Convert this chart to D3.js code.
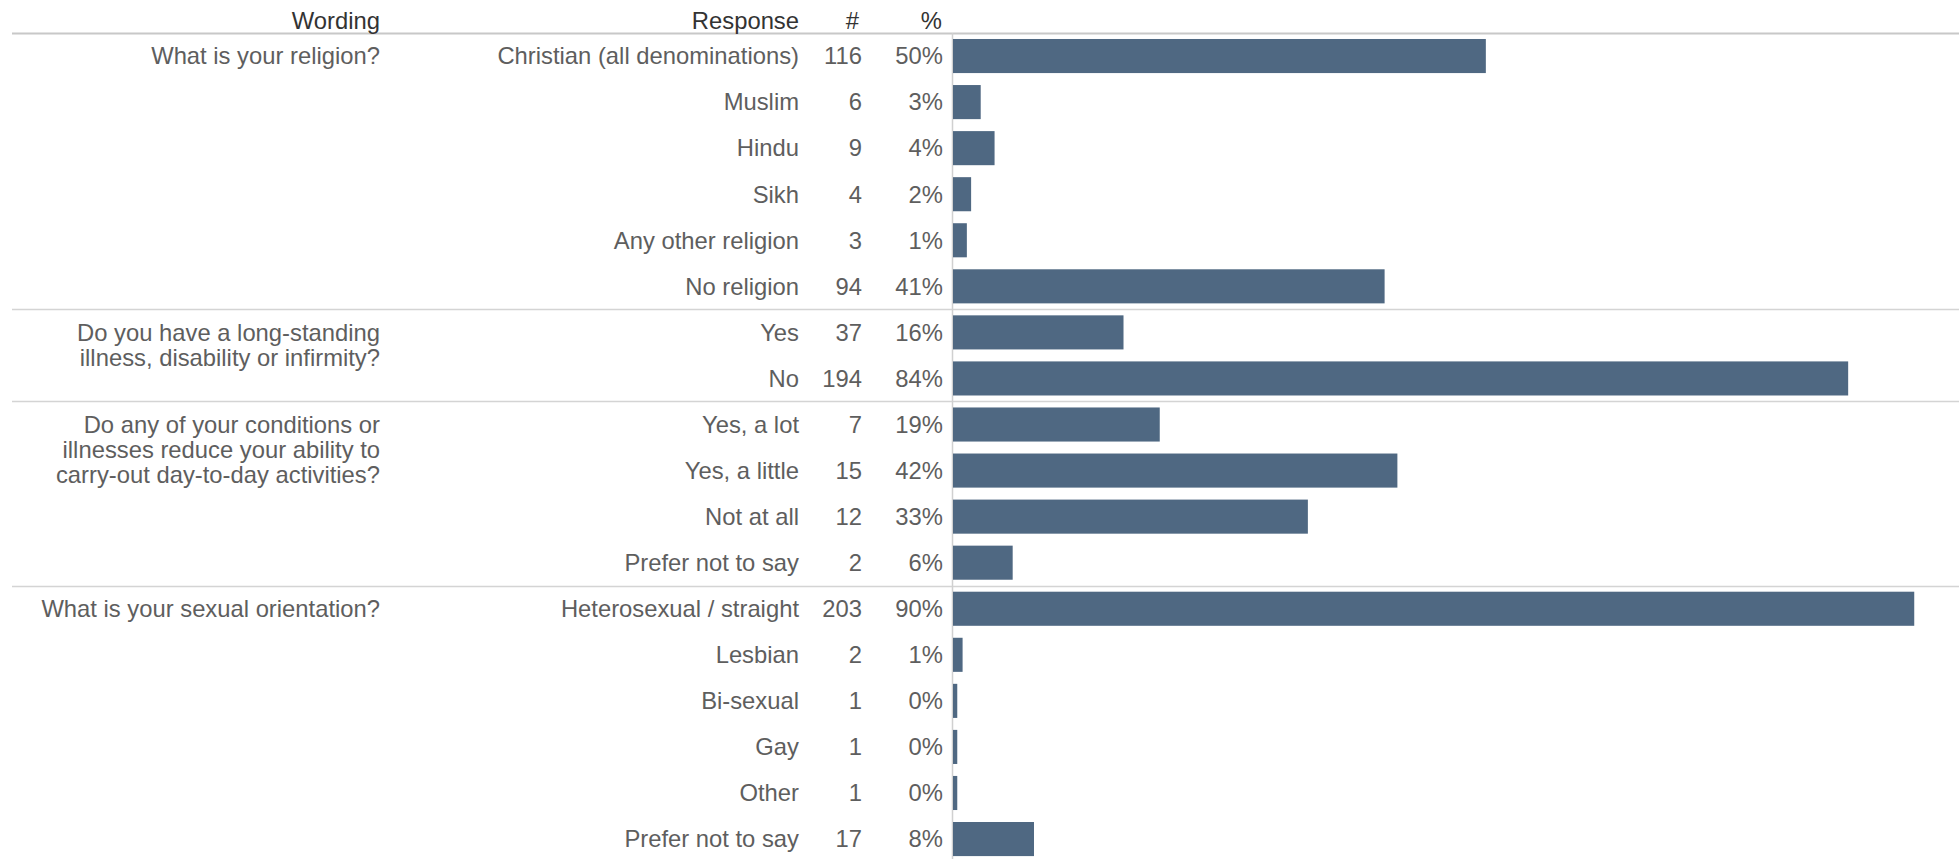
<!DOCTYPE html>
<html>
<head>
<meta charset="utf-8">
<script src="https://cdn.jsdelivr.net/npm/d3@7"></script>
<style>
  body { margin: 0; background: #fff; }
  svg { display: block; font-family: "Liberation Sans", Arial, sans-serif; }
</style>
</head>
<body>
<div id="chart"></div>
<script>
// Question wording, one entry per group (lines as drawn)
const wording = [
    ["What is your religion?"],
    ["Do you have a long-standing", "illness, disability or infirmity?"],
    ["Do any of your conditions or", "illnesses reduce your ability to", "carry-out day-to-day activities?"],
    ["What is your sexual orientation?"]
];
// number of response rows in each group
const groupSizes = [6, 2, 4, 6];

const responses = [
    "Christian (all denominations)", "Muslim", "Hindu", "Sikh", "Any other religion", "No religion",
    "Yes", "No",
    "Yes, a lot", "Yes, a little", "Not at all", "Prefer not to say",
    "Heterosexual / straight", "Lesbian", "Bi-sexual", "Gay", "Other", "Prefer not to say"
];
const counts = [116, 6, 9, 4, 3, 94, 37, 194, 7, 15, 12, 2, 203, 2, 1, 1, 1, 17];
const percents = [50.0, 2.6, 3.9, 1.7, 1.3, 40.5, 16.0, 84.0, 19.4, 41.7, 33.3, 5.6, 90.2, 0.9, 0.4, 0.4, 0.4, 7.6];

const headers = ["Wording", "Response", "#", "%"];

const width = 1959, height = 859;
const chartTop = 33;
const fontSize = 23.8;

const svg = d3.select("#chart").append("svg")
    .attr("width", width)
    .attr("height", height);

// scales
const y = d3.scaleBand()
    .domain(d3.range(responses.length))
    .range([chartTop, chartTop + responses.length * 46.06])
    .paddingInner(0.26)
    .paddingOuter(0.13);

const x = d3.scaleLinear()
    .domain([0, 94.4])
    .range([953, width]);

const step = y.step();
const rowTop = i => y(i) - step * y.paddingInner() / 2;
const rowMid = i => y(i) + y.bandwidth() / 2;

// column anchors (right-aligned text)
const colWording = 380, colResponse = 799, colCount = 862, colPct = 943;

// group starts
const groupStart = [];
let acc = 0;
groupSizes.forEach(n => { groupStart.push(acc); acc += n; });

// separators
svg.append("g")
    .selectAll("line")
    .data(groupStart)
    .join("line")
    .attr("x1", 12)
    .attr("x2", width)
    .attr("y1", d => Math.round(rowTop(d)) + 0.5)
    .attr("y2", d => Math.round(rowTop(d)) + 0.5)
    .attr("stroke", d => d === 0 ? "#c8c8c8" : "#d4d4d4")
    .attr("stroke-width", d => d === 0 ? 2 : 1.5);

// zero axis line
svg.append("line")
    .attr("x1", x(0) - 0.5)
    .attr("x2", x(0) - 0.5)
    .attr("y1", chartTop)
    .attr("y2", height)
    .attr("stroke", "#d0d0d0")
    .attr("stroke-width", 1.5);

// bars
svg.append("g")
    .selectAll("rect")
    .data(percents)
    .join("rect")
    .attr("x", x(0))
    .attr("y", (d, i) => y(i))
    .attr("width", d => x(d) - x(0))
    .attr("height", y.bandwidth())
    .attr("fill", "#4f6882");

// headers
svg.append("g")
    .selectAll("text")
    .data(headers)
    .join("text")
    .attr("x", (d, i) => [colWording, colResponse, colCount - 3, colPct - 1][i])
    .attr("y", 21)
    .attr("dy", "0.35em")
    .attr("text-anchor", "end")
    .attr("font-size", fontSize)
    .attr("fill", "#333")
    .text(d => d);

// wording
const wordG = svg.append("g")
    .selectAll("text")
    .data(wording)
    .join("text")
    .attr("text-anchor", "end")
    .attr("font-size", fontSize)
    .attr("fill", "#5e5e5e");
wordG.each(function(lines, gi) {
    const start = groupStart[gi];
    d3.select(this).selectAll("tspan")
        .data(lines)
        .join("tspan")
        .attr("x", colWording)
        .attr("y", (d, li) => rowMid(start) + li * 25)
        .attr("dy", "0.35em")
        .text(d => d);
});

// response labels, counts, percents
const rows = svg.append("g")
    .selectAll("g")
    .data(responses)
    .join("g")
    .attr("font-size", fontSize)
    .attr("fill", "#5e5e5e")
    .attr("text-anchor", "end");

rows.append("text")
    .attr("x", colResponse)
    .attr("y", (d, i) => rowMid(i))
    .attr("dy", "0.35em")
    .text(d => d);

rows.append("text")
    .attr("x", colCount)
    .attr("y", (d, i) => rowMid(i))
    .attr("dy", "0.35em")
    .text((d, i) => counts[i]);

rows.append("text")
    .attr("x", colPct)
    .attr("y", (d, i) => rowMid(i))
    .attr("dy", "0.35em")
    .text((d, i) => Math.round(percents[i]) + "%");
</script>
</body>
</html>
